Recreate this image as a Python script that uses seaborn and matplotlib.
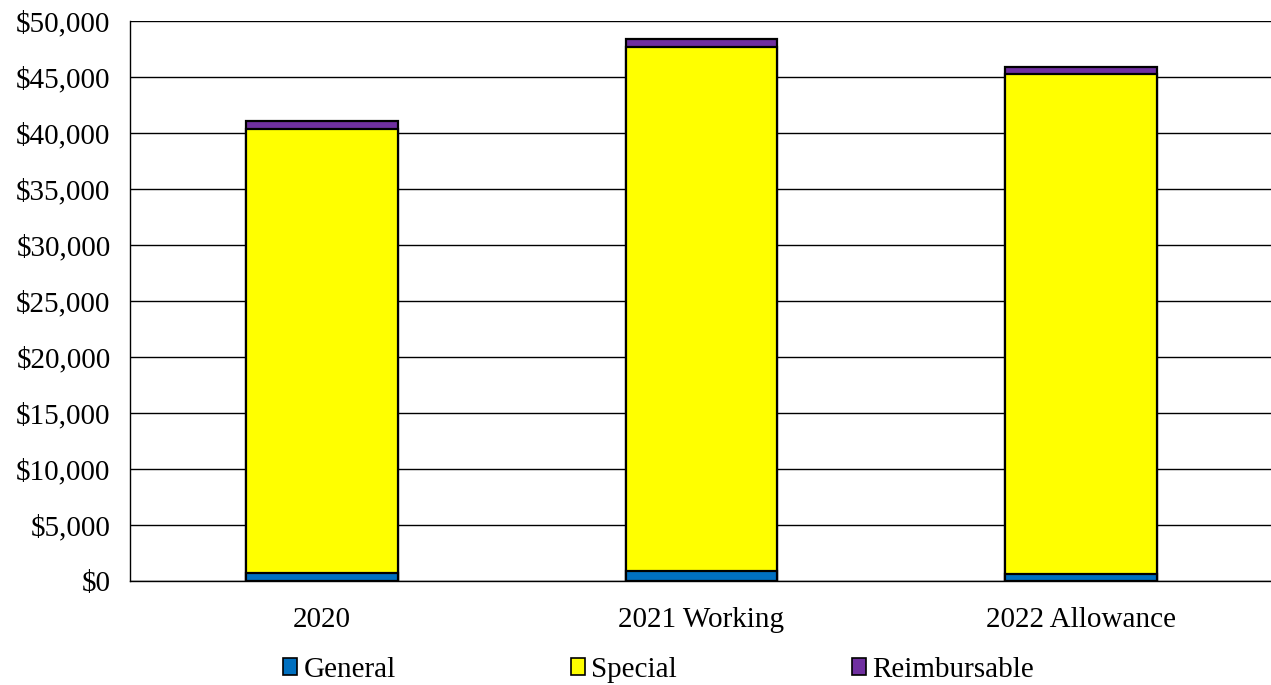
import numpy as np
import pandas as pd
import matplotlib
matplotlib.use('Agg')
import matplotlib.pyplot as plt
import seaborn as sns
from matplotlib.ticker import FuncFormatter
from matplotlib.patches import Patch

YEARS = ['2020', '2021 Working', '2022 Allowance']
GENERAL = [700, 900, 600]
SPECIAL = [39700, 46800, 44700]
REIMBURSABLE = [650, 650, 600]

COLORS = {'General': '#0070C0', 'Special': '#FFFF00', 'Reimbursable': '#7030A0'}

sns.set_style('white')
plt.rcParams['font.family'] = ['Liberation Serif', 'DejaVu Serif']
plt.rcParams['text.color'] = 'black'

data = pd.DataFrame({'Year': YEARS, 'General': GENERAL,
                     'Special': SPECIAL, 'Reimbursable': REIMBURSABLE})
data['Special_cum'] = data['General'] + data['Special']
data['Total'] = data['Special_cum'] + data['Reimbursable']

fig = plt.figure(figsize=(12.71, 6.85), dpi=100)
ax = fig.add_axes([130 / 1271, 104 / 685, 1141 / 1271, 560 / 685])

ax.set_axisbelow(True)
ax.yaxis.grid(True, color='black', linewidth=1)

# stacked look: draw cumulative totals, then overlay lower segments
for col, name in [('Total', 'Reimbursable'), ('Special_cum', 'Special'), ('General', 'General')]:
    sns.barplot(data=data, x='Year', y=col, color=COLORS[name], width=0.4,
                edgecolor='black', linewidth=1.6, saturation=1, ax=ax)

ax.set_ylim(0, 50000)
ax.set_xlim(-0.505, 2.5)
ax.set_yticks(np.arange(0, 50001, 5000))
ax.yaxis.set_major_formatter(FuncFormatter(lambda v, p: '${:,.0f}'.format(v)))
ax.set_xlabel('')
ax.set_ylabel('')
ax.tick_params(axis='both', labelsize=21, length=0, colors='black')
ax.tick_params(axis='y', pad=14)
ax.tick_params(axis='x', pad=19)

for s in ['top', 'right']:
    ax.spines[s].set_visible(False)
ax.spines['left'].set_color('black')
ax.spines['bottom'].set_color('black')
ax.spines['left'].set_linewidth(1)
ax.spines['bottom'].set_linewidth(1)

handles = [Patch(facecolor=COLORS[n], edgecolor='black', linewidth=1.2, label=n)
           for n in ['General', 'Special', 'Reimbursable']]
fig.legend(handles=handles, loc='center', bbox_to_anchor=(0.518, 0.022), ncol=3,
           frameon=False, fontsize=21, handlelength=0.5, handleheight=0.5,
           handletextpad=0.2, columnspacing=6)

fig.savefig('out.png', dpi=100)
